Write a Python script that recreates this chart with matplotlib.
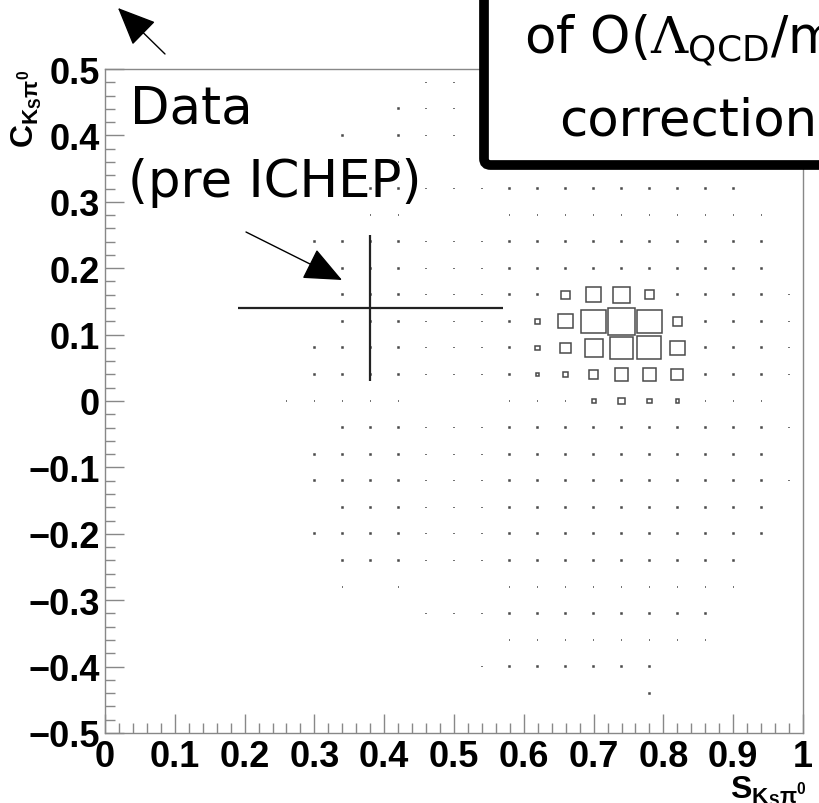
import matplotlib.pyplot as plt
from matplotlib.patches import Rectangle, FancyBboxPatch
from matplotlib.ticker import MultipleLocator
import numpy as np

plt.rcParams['mathtext.fontset'] = 'custom'
plt.rcParams['mathtext.rm'] = 'DejaVu Serif'
plt.rcParams['mathtext.sf'] = 'DejaVu Sans'
plt.rcParams['mathtext.it'] = 'DejaVu Sans'
plt.rcParams['mathtext.bf'] = 'Liberation Sans:bold'

# 2D histogram, bins of 0.04 in S and C
bin_w = 0.04
# rows of filled bins with small content: y centre, first and last x centre
row_y = [0.48, 0.44, 0.40, 0.36, 0.32, 0.28, 0.24, 0.20, 0.16, 0.12, 0.08, 0.04,
         0.00, -0.04, -0.08, -0.12, -0.16, -0.20, -0.24, -0.28, -0.32, -0.36, -0.40, -0.44]
row_start = [0.46, 0.42, 0.34, 0.42, 0.38, 0.38, 0.30, 0.34, 0.34, 0.34, 0.30, 0.30,
             0.26, 0.34, 0.30, 0.30, 0.34, 0.30, 0.34, 0.34, 0.46, 0.50, 0.54, 0.78]
row_end = [0.50, 0.50, 0.50, 0.50, 0.90, 0.94, 0.94, 0.94, 0.98, 0.98, 0.98, 0.98,
           0.98, 0.98, 0.94, 0.98, 0.94, 0.94, 0.90, 0.90, 0.86, 0.86, 0.78, 0.78]
empty_x = [0.38, 0.38]
empty_y = [0.40, -0.28]
dot_size = 0.03

# bins with large content (box side as fraction of bin)
peak_x = [0.66, 0.70, 0.74, 0.78,
          0.62, 0.66, 0.70, 0.74, 0.78, 0.82,
          0.62, 0.66, 0.70, 0.74, 0.78, 0.82,
          0.62, 0.66, 0.70, 0.74, 0.78, 0.82,
          0.70, 0.74, 0.78, 0.82]
peak_y = [0.16, 0.16, 0.16, 0.16,
          0.12, 0.12, 0.12, 0.12, 0.12, 0.12,
          0.08, 0.08, 0.08, 0.08, 0.08, 0.08,
          0.04, 0.04, 0.04, 0.04, 0.04, 0.04,
          0.00, 0.00, 0.00, 0.00]
peak_size = [0.30, 0.56, 0.60, 0.35,
             0.17, 0.54, 0.88, 1.00, 0.89, 0.32,
             0.17, 0.38, 0.65, 0.83, 0.86, 0.54,
             0.10, 0.17, 0.33, 0.50, 0.48, 0.42,
             0.14, 0.26, 0.17, 0.12]

# measurement (pre ICHEP average)
data_S = [0.38]
data_C = [0.14]
data_S_err = [0.19]
data_C_err = [0.11]

x_ticks = [0, 0.1, 0.2, 0.3, 0.4, 0.5, 0.6, 0.7, 0.8, 0.9, 1]
x_labels = ['0', '0.1', '0.2', '0.3', '0.4', '0.5', '0.6', '0.7', '0.8', '0.9', '1']
y_ticks = [-0.5, -0.4, -0.3, -0.2, -0.1, 0, 0.1, 0.2, 0.3, 0.4, 0.5]
y_labels = ['\u22120.5', '\u22120.4', '\u22120.3', '\u22120.2', '\u22120.1', '0',
            '0.1', '0.2', '0.3', '0.4', '0.5']

W, H = 820, 804
fig = plt.figure(figsize=(W / 100, H / 100), dpi=100)
ax = fig.add_axes([105 / W, 1 - 734 / H, 698 / W, 664 / H])
ax.set_xlim(0, 1)
ax.set_ylim(-0.5, 0.5)


def draw_cell(x, y, s):
    w = s * bin_w
    ax.add_patch(Rectangle((x - w / 2, y - w / 2), w, w, fill=False,
                           ec='#4a4a4a', lw=1.1))


filled = set(zip(peak_x, peak_y))
empty = set(zip(empty_x, empty_y))
for y, x0, x1 in zip(row_y, row_start, row_end):
    for x in np.arange(x0, x1 + 1e-6, bin_w):
        key = (round(x, 2), y)
        if key in filled or key in empty:
            continue
        draw_cell(round(x, 2), y, dot_size)
for x, y, s in zip(peak_x, peak_y, peak_size):
    draw_cell(x, y, s)

ax.errorbar(data_S, data_C, xerr=data_S_err, yerr=data_C_err, fmt='none',
            ecolor='#222222', elinewidth=1.6, capsize=0)

# ROOT-like axes
for side in ['left', 'bottom', 'right', 'top']:
    ax.spines[side].set_color('#888888')
    ax.spines[side].set_linewidth(1.0)
ax.set_xticks(x_ticks)
ax.set_xticklabels(x_labels)
ax.set_yticks(y_ticks)
ax.set_yticklabels(y_labels)
ax.xaxis.set_minor_locator(MultipleLocator(0.02))
ax.yaxis.set_minor_locator(MultipleLocator(0.02))
ax.tick_params(which='major', direction='in', length=14, width=1, color='#888888')
ax.tick_params(which='minor', direction='in', length=7, width=1, color='#888888')
ax.tick_params(axis='x', pad=4.5)
ax.tick_params(axis='y', pad=3.5)
for lbl in ax.get_xticklabels() + ax.get_yticklabels():
    lbl.set_family('Liberation Sans')
    lbl.set_weight('bold')
    lbl.set_fontsize(26)

fig.text(27 / W, 1 - 70 / H, r'$\mathbf{C_{K_{S}\pi^{0}}}$', rotation=90,
         ha='center', va='top', fontsize=23)
fig.text(806 / W, 1 - 774 / H, r'$\mathbf{S_{K_{S}\pi^{0}}}$',
         ha='right', va='top', fontsize=23)

# slide annotations
fig.text(130 / W, 1 - 124 / H, 'Data', fontsize=37, family='DejaVu Sans', va='baseline')
fig.text(128 / W, 1 - 197 / H, '(pre ICHEP)', fontsize=37, family='DejaVu Sans',
         va='baseline')

box = FancyBboxPatch((484 / W, 1 - 166 / H), 0.6, 0.4, transform=fig.transFigure,
                     boxstyle='round,pad=0,rounding_size=0.008', fc='white',
                     ec='black', lw=7, zorder=5, clip_on=False)
fig.add_artist(box)
fig.text(702 / W, 1 - 53 / H, r'of O($\mathrm{\Lambda}_{\mathsf{QCD}}$/m$_{\mathsf{b}}$)',
         ha='center', va='baseline', fontsize=37, family='DejaVu Sans', zorder=6)
fig.text(702 / W, 1 - 135 / H, 'corrections', ha='center', va='baseline',
         fontsize=37, family='DejaVu Sans', zorder=6)

arrow_kw = dict(arrowstyle='-|>,head_length=1.15,head_width=0.5', color='black',
                lw=1.0, mutation_scale=21, shrinkA=0, shrinkB=0)
ax.annotate('', xy=(118, H - 9), xytext=(165, H - 55), xycoords='figure pixels',
            textcoords='figure pixels', arrowprops=arrow_kw, annotation_clip=False)
ax.annotate('', xy=(342, H - 281), xytext=(246, H - 233), xycoords='figure pixels',
            textcoords='figure pixels', arrowprops=arrow_kw, annotation_clip=False)

fig.savefig('out.png', dpi=100)
